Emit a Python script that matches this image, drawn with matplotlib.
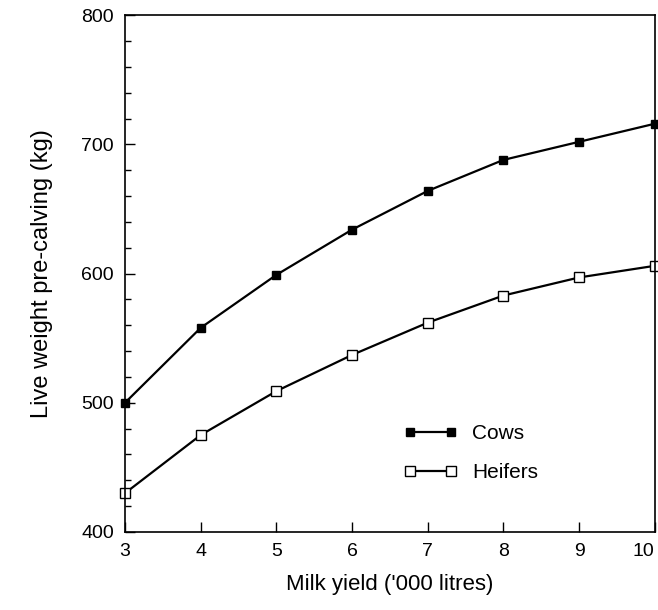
import matplotlib
matplotlib.use("Agg")
import matplotlib.pyplot as plt
from matplotlib.ticker import MultipleLocator

# Values
milk_yield = [3, 4, 5, 6, 7, 8, 9, 10]
cows = [500, 558, 599, 634, 664, 688, 702, 716]
heifers = [430, 475, 509, 537, 562, 583, 597, 606]

plt.rcParams['font.family'] = ['Liberation Sans', 'DejaVu Sans']

fig = plt.figure(figsize=(6.58, 6.10), dpi=100)
ax = fig.add_axes([0.19, 0.128, 0.805, 0.847])

ax.plot(milk_yield, cows, color='black', lw=1.6, marker='s', ms=5.5,
        mfc='black', mec='black', clip_on=False, label='Cows')
ax.plot(milk_yield, heifers, color='black', lw=1.6, marker='s', ms=6.5,
        mfc='white', mec='black', mew=1.0, clip_on=False, label='Heifers')

ax.set_xlim(3, 10)
ax.set_ylim(400, 800)
ax.set_xticks(milk_yield)
ax.yaxis.set_major_locator(MultipleLocator(100))
ax.yaxis.set_minor_locator(MultipleLocator(20))
ax.tick_params(axis='both', which='major', direction='in', length=7, width=1,
               labelsize=14, pad=8)
ax.tick_params(axis='y', which='minor', direction='in', length=4, width=1)
ax.tick_params(top=False, right=False)
for s in ax.spines.values():
    s.set_linewidth(1.2)
# keep the last label inside the figure, as in the original
ax.get_xticklabels()[-1].set_horizontalalignment('right')

ax.set_xlabel("Milk yield ('000 litres)", fontsize=16, labelpad=10)
ax.set_ylabel("Live weight pre-calving (kg)", fontsize=17, labelpad=20)

ax.legend(loc='lower left', bbox_to_anchor=(0.49, 0.06), frameon=False,
          numpoints=2, handlelength=2.6, fontsize=15, labelspacing=0.95,
          handletextpad=0.7)

fig.savefig("out.png", dpi=100)
